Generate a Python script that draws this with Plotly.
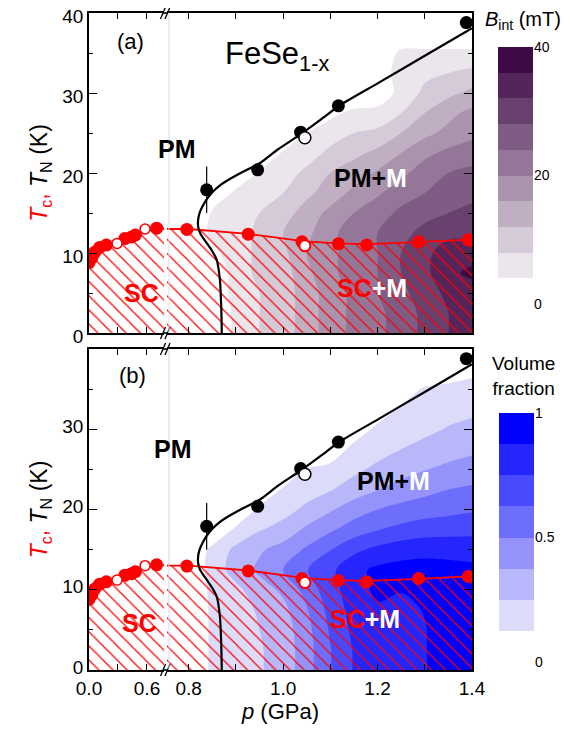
import plotly.graph_objects as go

# ---------------- data ----------------
# Tc (red) – compressed low-pressure segment
tc_left_p = [0.0, 0.03, 0.06, 0.11, 0.18, 0.37, 0.44, 0.48, 0.70]
tc_left_T = [8.8, 9.4, 10.1, 10.7, 11.0, 11.8, 12.0, 12.25, 13.1]
tc_left_open_p = [0.29, 0.58]
tc_left_open_T = [11.2, 13.0]
tc_left_line_p = [0.0, 0.05, 0.1, 0.2, 0.3, 0.4, 0.5, 0.6, 0.7, 0.776]
tc_left_line_T = [8.6, 9.8, 10.5, 11.1, 11.5, 12.0, 12.4, 12.8, 13.05, 13.1]

# Tc (red) – expanded high-pressure segment
tc_right_p = [0.796, 0.926, 1.04, 1.117, 1.177, 1.287, 1.392]
tc_right_T = [12.95, 12.35, 11.4, 11.15, 11.0, 11.4, 11.65]
tc_right_open_p = [1.046]
tc_right_open_T = [10.9]
tc_right_line_p = [0.754, 0.80, 0.926, 1.0, 1.046, 1.117, 1.177, 1.287, 1.4]
tc_right_line_T = [13.0, 13.0, 12.4, 11.8, 11.45, 11.2, 11.1, 11.35, 11.7]

# TN (black)
tn_p = [0.838, 0.946, 1.037, 1.117, 1.388]
tn_T = [17.9, 20.4, 25.1, 28.4, 38.8]
tn_err = [2.9, 0, 0, 0, 0]
tn_open_p = [1.046]
tn_open_T = [24.4]
tn_line_p = [0.870, 0.869, 0.866, 0.859, 0.848, 0.838, 0.829, 0.824, 0.820, 0.820, 0.823, 0.829,
             0.838, 0.850, 0.865, 0.880, 0.910, 0.951, 0.990, 1.036, 1.080, 1.121, 1.20, 1.30, 1.40]
tn_line_T = [0.0, 3.0, 6.7, 9.2, 10.4, 11.25, 12.0, 12.5, 13.3, 14.2, 15.0, 15.8,
             16.7, 17.6, 18.4, 19.0, 20.0, 21.25, 23.0, 24.8, 26.7, 28.5, 31.2, 34.65, 38.1]

# contour grids
grid_p = [0.80, 0.85, 0.90, 0.95, 1.00, 1.05, 1.10, 1.15, 1.20, 1.25, 1.30, 1.35, 1.40]
grid_T = [0, 2.5, 5, 7.5, 10, 12.5, 15, 17.5, 20, 22.5, 25, 27.5, 30, 32.5, 35, 37.5, 40]

b_int = [  # mT, rows follow grid_T
    [0, 0, 5, 8, 10, 14, 18, 21, 23, 26, 29, 32, 33],
    [0, 0, 5, 8, 10, 14, 18, 21, 23, 26, 29, 32, 33],
    [0, 0, 6, 8, 10, 14, 18, 21, 24, 27, 30, 33, 34],
    [0, 0, 6, 9, 10, 15, 19, 22, 24, 28, 31, 35, 37],
    [0, 3, 6, 9, 11, 16, 19, 22, 24, 28, 31, 34, 34],
    [0, 5, 6, 9, 12, 15, 19, 22, 24, 27, 29, 31, 31],
    [0, 4.5, 6, 8, 10, 14, 17, 20, 22, 25, 27, 28, 29],
    [0, 0, 5, 6, 8, 11, 14, 17, 19.5, 22, 24, 26, 27],
    [0, 0, 0, 4.5, 6, 9, 12, 14, 16.5, 19, 22, 24, 25],
    [0, 0, 0, 0, 4.5, 6, 9, 11, 13, 16, 19, 21, 22],
    [0, 0, 0, 0, 0, 4, 6, 8, 9, 12, 15, 17, 19],
    [0, 0, 0, 0, 0, 0, 3, 5, 5, 8, 12, 15, 17],
    [0, 0, 0, 0, 0, 0, 0, 0, 2, 5, 9, 11, 13],
    [0, 0, 0, 0, 0, 0, 0, 0, 0, 7, 7, 8, 9],
    [0, 0, 0, 0, 0, 0, 0, 0, 0, 5, 5, 5, 5],
    [0, 0, 0, 0, 0, 0, 0, 0, 0, 0, 0, 0, 0],
    [0, 0, 0, 0, 0, 0, 0, 0, 0, 0, 0, 0, 0],
]

vol_frac = [  # rows follow grid_T
    [0, 0.15, 0.16, 0.24, 0.30, 0.45, 0.62, 0.76, 0.84, 0.84, 0.87, 0.92, 0.90],
    [0, 0.15, 0.16, 0.24, 0.30, 0.45, 0.62, 0.76, 0.84, 0.84, 0.87, 0.93, 0.92],
    [0, 0.15, 0.17, 0.25, 0.31, 0.46, 0.64, 0.78, 0.85, 0.84, 0.87, 0.93, 0.93],
    [0, 0.15, 0.18, 0.27, 0.34, 0.49, 0.67, 0.80, 0.86, 0.85, 0.88, 0.93, 0.93],
    [0, 0.16, 0.22, 0.32, 0.40, 0.55, 0.70, 0.82, 0.90, 0.88, 0.88, 0.91, 0.92],
    [0, 0.18, 0.30, 0.40, 0.50, 0.62, 0.72, 0.84, 0.90, 0.92, 0.92, 0.91, 0.90],
    [0, 0.16, 0.28, 0.36, 0.42, 0.52, 0.62, 0.72, 0.78, 0.82, 0.84, 0.84, 0.83],
    [0, 0, 0.15, 0.24, 0.30, 0.40, 0.48, 0.56, 0.62, 0.66, 0.69, 0.70, 0.71],
    [0, 0, 0, 0.15, 0.20, 0.28, 0.36, 0.44, 0.50, 0.54, 0.57, 0.59, 0.61],
    [0, 0, 0, 0, 0.14, 0.19, 0.24, 0.31, 0.37, 0.42, 0.46, 0.50, 0.52],
    [0, 0, 0, 0, 0, 0.13, 0.16, 0.22, 0.28, 0.33, 0.37, 0.40, 0.43],
    [0, 0, 0, 0, 0, 0, 0.05, 0.16, 0.20, 0.25, 0.29, 0.33, 0.35],
    [0, 0, 0, 0, 0, 0, 0, 0.06, 0.15, 0.18, 0.22, 0.26, 0.29],
    [0, 0, 0, 0, 0, 0, 0, 0, 0.06, 0.14, 0.17, 0.20, 0.22],
    [0, 0, 0, 0, 0, 0, 0, 0, 0, 0.06, 0.14, 0.16, 0.18],
    [0, 0, 0, 0, 0, 0, 0, 0, 0, 0, 0, 0.04, 0.08],
    [0, 0, 0, 0, 0, 0, 0, 0, 0, 0, 0, 0, 0],
]

b_levels = [4, 8, 12, 16, 20, 24, 28, 32, 36]
b_colors = ['#ebe5ec', '#d5cad7', '#c0aec2', '#aa93ad', '#947798',
            '#7f5c84', '#69416f', '#54255a', '#3e0a45']
v_levels = [0.125, 0.25, 0.375, 0.5, 0.625, 0.75, 0.875]
v_colors = ['#dcdcfa', '#b7b7fa', '#9393fb', '#6e6efc', '#4949fd', '#2525fe', '#0000ff']

# ---------------- geometry helpers (page pixel -> paper) ----------------
PAGE_OFF = 8          # default body margin of the html page
W, H = 579 - PAGE_OFF, 734 - PAGE_OFF
ML, MR, MT, MB = 89 - PAGE_OFF, 0, 13 - PAGE_OFF, 64
PW, PH = W - ML - MR, H - MT - MB


def px(x):
    return (x - 89) / PW


def py(y):
    return (670 - y) / PH


FONT = "Liberation Sans, Arial, sans-serif"


def discrete_scale(colors):
    n = len(colors)
    sc = []
    for i, c in enumerate(colors):
        sc.append([i / n, c])
        sc.append([(i + 1) / n, c])
    return sc


fig = go.Figure()

panels = [
    dict(xl='x', yl='y', xr='x2', yr='y2', z=b_int, levels=b_levels, colors=b_colors),
    dict(xl='x3', yl='y3', xr='x4', yr='y4', z=vol_frac, levels=v_levels, colors=v_colors),
]

for pn in panels:
    lv = pn['levels']
    step = lv[1] - lv[0]
    fig.add_trace(go.Contour(
        x=grid_p, y=grid_T, z=pn['z'], xaxis=pn['xr'], yaxis=pn['yr'],
        contours=dict(start=lv[0], end=lv[-1] + step, size=step, coloring='fill', showlines=False),
        colorscale=discrete_scale(['#ffffff'] + pn['colors']),
        line=dict(width=0), showscale=False, hoverinfo='skip'))
    # hatched SC regions
    for xa, ya, lp, lt, x0, x1 in [
        (pn['xl'], pn['yl'], tc_left_line_p, tc_left_line_T, 0.0, 0.776),
        (pn['xr'], pn['yr'], tc_right_line_p, tc_right_line_T, 0.754, 1.4),
    ]:
        fig.add_trace(go.Scatter(
            x=[x0] + lp + [x1, x0], y=[0] + lt + [0, 0], xaxis=xa, yaxis=ya,
            mode='none', fill='toself', fillcolor='rgba(0,0,0,0)',
            fillpattern=dict(shape='\\', fgcolor='#ff0000', bgcolor='rgba(0,0,0,0)',
                             size=10, solidity=0.12, fillmode='replace'),
            hoverinfo='skip'))
    # Tc lines
    fig.add_trace(go.Scatter(x=tc_left_line_p, y=tc_left_line_T, xaxis=pn['xl'], yaxis=pn['yl'],
                             mode='lines', line=dict(color='#ff0000', width=1.8)))
    fig.add_trace(go.Scatter(x=tc_right_line_p, y=tc_right_line_T, xaxis=pn['xr'], yaxis=pn['yr'],
                             mode='lines', line=dict(color='#ff0000', width=1.8)))
    # TN line
    fig.add_trace(go.Scatter(x=tn_line_p, y=tn_line_T, xaxis=pn['xr'], yaxis=pn['yr'],
                             mode='lines', line=dict(color='black', width=2.2, shape='spline', smoothing=0.6)))
    # Tc markers
    fig.add_trace(go.Scatter(x=tc_left_p, y=tc_left_T, xaxis=pn['xl'], yaxis=pn['yl'], mode='markers',
                             marker=dict(color='#ff0000', size=13, line=dict(width=0))))
    fig.add_trace(go.Scatter(x=tc_left_open_p, y=tc_left_open_T, xaxis=pn['xl'], yaxis=pn['yl'], mode='markers',
                             marker=dict(color='white', size=10, line=dict(color='#ff0000', width=1.5))))
    fig.add_trace(go.Scatter(x=tc_right_p, y=tc_right_T, xaxis=pn['xr'], yaxis=pn['yr'], mode='markers',
                             marker=dict(color='#ff0000', size=13, line=dict(width=0))))
    fig.add_trace(go.Scatter(x=tc_right_open_p, y=tc_right_open_T, xaxis=pn['xr'], yaxis=pn['yr'], mode='markers',
                             marker=dict(color='white', size=11, line=dict(color='#ff0000', width=2))))
    # TN markers
    fig.add_trace(go.Scatter(x=tn_p, y=tn_T, xaxis=pn['xr'], yaxis=pn['yr'], mode='markers',
                             error_y=dict(type='data', array=tn_err, color='black', thickness=1.2, width=0),
                             marker=dict(color='black', size=13, line=dict(width=0))))
    fig.add_trace(go.Scatter(x=tn_open_p, y=tn_open_T, xaxis=pn['xr'], yaxis=pn['yr'], mode='markers',
                             marker=dict(color='white', size=12, line=dict(color='black', width=1.5))))

# custom colour bars
fig.add_trace(go.Bar(x=[0] * len(b_levels), y=[4] * len(b_levels), base=b_levels,
                     marker=dict(color=b_colors, line=dict(width=0)), width=1,
                     xaxis='x5', yaxis='y5', hoverinfo='skip'))
fig.add_trace(go.Bar(x=[0] * len(v_levels), y=[0.125] * len(v_levels), base=v_levels,
                     marker=dict(color=v_colors, line=dict(width=0)), width=1,
                     xaxis='x6', yaxis='y6', hoverinfo='skip'))

tickfont = dict(family=FONT, size=19, color='black')
base_ax = dict(showgrid=False, zeroline=False, showline=True, linecolor='black', linewidth=1.6,
               ticks='inside', tickcolor='black', tickwidth=1.3, tickfont=tickfont,
               ticklabeloverflow='allow')

x_left = dict(base_ax, range=[0, 0.776], domain=[0, px(164)], mirror='ticks', ticklen=6,
              tickvals=[0, 0.3, 0.6], ticktext=['0.0', '', '0.6'])
x_right = dict(base_ax, range=[0.754, 1.4], domain=[px(167), px(472)], mirror='ticks', ticklen=6,
               tickvals=[0.8, 0.9, 1.0, 1.1, 1.2, 1.3, 1.4],
               ticktext=['0.8', '', '1.0', '', '1.2', '', '1.4'])
y_minor = dict(dtick=5, tick0=0, ticks='inside', ticklen=4, tickcolor='black', tickwidth=1.2)
ytitle = dict(text='<span style="color:#ff0000"><i>T</i><sub>c</sub>,</span> <i>T</i><sub>N</sub> (K)',
              font=dict(family=FONT, size=23, color='black'), standoff=8)

fig.update_layout(
    xaxis=dict(x_left, anchor='y', showticklabels=False),
    xaxis2=dict(x_right, anchor='y2', showticklabels=False),
    yaxis=dict(base_ax, range=[0, 40], domain=[py(333), py(13)], anchor='x', dtick=10, tick0=0,
               ticklen=8, minor=y_minor, title=ytitle, ticklabelshift=3),
    yaxis2=dict(base_ax, range=[0, 40], domain=[py(333), py(13)], anchor='x2', side='right',
                dtick=10, tick0=0, ticklen=8, minor=y_minor, showticklabels=False),
    xaxis3=dict(x_left, anchor='y3'),
    xaxis4=dict(x_right, anchor='y4'),
    yaxis3=dict(base_ax, range=[0, 40], domain=[py(670), py(349)], anchor='x3',
                tickvals=[0, 10, 20, 30, 40], ticktext=['0', '10', '20', '30', ''],
                ticklen=8, minor=y_minor, title=ytitle, ticklabelshift=-3),
    yaxis4=dict(base_ax, range=[0, 40], domain=[py(670), py(349)], anchor='x4', side='right',
                dtick=10, tick0=0, ticklen=8, minor=y_minor, showticklabels=False),
    xaxis5=dict(domain=[px(498), px(533)], range=[-0.5, 0.5], visible=False, anchor='y5'),
    yaxis5=dict(domain=[py(304), py(47)], range=[0, 40], anchor='x5', side='right',
                showgrid=False, zeroline=False, showline=False, ticks='',
                tickvals=[0, 20, 40], tickfont=dict(family=FONT, size=14, color='black')),
    xaxis6=dict(domain=[px(499), px(534)], range=[-0.5, 0.5], visible=False, anchor='y6'),
    yaxis6=dict(domain=[py(662), py(413)], range=[0, 1], anchor='x6', side='right',
                showgrid=False, zeroline=False, showline=False, ticks='',
                tickvals=[0, 0.5, 1], ticktext=['0', '0.5', '1'],
                tickfont=dict(family=FONT, size=14, color='black')),
    width=W, height=H, margin=dict(l=ML, r=MR, t=MT, b=MB),
    paper_bgcolor='white', plot_bgcolor='white', template='none',
    showlegend=False, barmode='overlay', bargap=0,
    font=dict(family=FONT, color='black'),
)

# shapes: axis breaks and thin separator lines
shapes = []
for yy in [13, 333, 349, 670]:
    shapes.append(dict(type='line', xref='paper', yref='paper', x0=px(163), x1=px(168),
                       y0=py(yy), y1=py(yy), line=dict(color='black', width=1.6)))
    for xx in [163, 167.5]:
        shapes.append(dict(type='line', xref='paper', yref='paper', x0=px(xx - 2.5), x1=px(xx + 2.5),
                           y0=py(yy + 6), y1=py(yy - 6), line=dict(color='black', width=1.3)))
shapes.append(dict(type='line', xref='paper', yref='paper', x0=px(169), x1=px(169), y0=py(333),
                   y1=py(14), line=dict(color='#dedede', width=1)))
shapes.append(dict(type='line', xref='paper', yref='paper', x0=px(169), x1=px(169), y0=py(669),
                   y1=py(350), line=dict(color='#d4d4f2', width=1)))
fig.update_layout(shapes=shapes)

bold = dict(family=FONT, size=25, color='black')
ann = [
    dict(text='(a)', x=0.434, y=36.4, xref='x', yref='y', font=dict(family=FONT, size=22)),
    dict(text='FeSe<sub>1-x</sub>', x=0.873, y=34.6, xref='x2', yref='y2', xanchor='left',
         font=dict(family=FONT, size=31)),
    dict(text='<b>PM</b>', x=0.775, y=23.0, xref='x2', yref='y2', font=bold),
    dict(text='<b>PM+<span style="color:white">M</span></b>', x=1.184, y=19.4, xref='x2', yref='y2', font=bold),
    dict(text='<b>SC</b>', x=0.548, y=5.0, xref='x', yref='y', font=dict(bold, color='#ff0000')),
    dict(text='<b><span style="color:#ff0000">SC</span><span style="color:white">+M</span></b>',
         x=1.189, y=5.6, xref='x2', yref='y2', font=bold),
    dict(text='(b)', x=0.445, y=36.7, xref='x3', yref='y3', font=dict(family=FONT, size=22)),
    dict(text='<b>PM</b>', x=0.767, y=27.6, xref='x4', yref='y4', font=bold),
    dict(text='<b>PM+<span style="color:white">M</span></b>', x=1.234, y=23.6, xref='x4', yref='y4', font=bold),
    dict(text='<b>SC</b>', x=0.527, y=5.85, xref='x3', yref='y3', font=dict(bold, color='#ff0000')),
    dict(text='<b><span style="color:#ff0000">SC</span><span style="color:white">+M</span></b>',
         x=1.173, y=6.35, xref='x4', yref='y4', font=bold),
    dict(text='<i>p</i> (GPa)', x=px(280), y=py(711), xref='paper', yref='paper',
         font=dict(family=FONT, size=22)),
    dict(text='<i>B</i><sub>int</sub> (mT)', x=px(523), y=py(20), xref='paper', yref='paper',
         font=dict(family=FONT, size=20)),
    dict(text='Volume<br>fraction', x=px(523), y=py(376), xref='paper', yref='paper',
         font=dict(family=FONT, size=19)),
]
for a in ann:
    a.setdefault('showarrow', False)
    a.setdefault('xanchor', 'center')
    a.setdefault('yanchor', 'middle')
fig.update_layout(annotations=ann)

fig.write_html("out.html")
